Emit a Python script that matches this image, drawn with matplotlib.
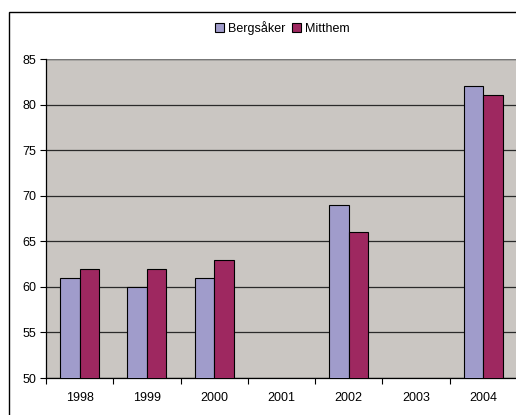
import matplotlib as mpl
import matplotlib.pyplot as plt
import numpy as np
from matplotlib.patches import Rectangle

mpl.rcParams['font.family'] = ['Liberation Sans', 'DejaVu Sans']

years = ['1998', '1999', '2000', '2001', '2002', '2003', '2004']
bergsaker = [61, 60, 61, np.nan, 69, np.nan, 82]
mitthem = [62, 62, 63, np.nan, 66, np.nan, 81]

W, H = 516, 415
fig = plt.figure(figsize=(W / 100, H / 100), dpi=100)
fig.patch.set_facecolor('white')

# outer chart frame, runs off the right and bottom edges
fig.patches.append(Rectangle((9 / W, -0.05), 1.1, 1 - 12 / H + 0.05,
                             transform=fig.transFigure, fill=False,
                             edgecolor='black', linewidth=1.0))

ax = fig.add_axes([46 / W, 37 / H, 1 - 46 / W + 0.002, (378 - 59) / H])
ax.set_facecolor('#cac6c2')

x = np.arange(len(years))
w = 0.29
ax.bar(x - w / 2, bergsaker, w, color='#a09ccb', edgecolor='black',
       linewidth=0.8, label='Bergsåker', zorder=3)
ax.bar(x + w / 2, mitthem, w, color='#9e2860', edgecolor='black',
       linewidth=0.8, label='Mitthem', zorder=3)

ax.set_ylim(50, 85)
ax.set_xlim(-0.5, len(years) - 0.5)
ax.set_yticks(range(50, 86, 5))
ax.yaxis.grid(True, color='#2a2a2a', linewidth=0.9, zorder=1)
ax.set_axisbelow(True)

ax.set_xticks(x)
ax.set_xticklabels(years, fontsize=9)
ax.set_xticks(np.arange(-0.5, len(years)), minor=True)
ax.tick_params(axis='x', which='major', length=0, pad=10)
ax.tick_params(axis='x', which='minor', length=4, width=0.8, direction='out')
ax.tick_params(axis='y', length=4, width=0.8, direction='out', labelsize=9, pad=3)

for side in ['top', 'right']:
    ax.spines[side].set_visible(False)
ax.spines['left'].set_linewidth(0.9)
ax.spines['bottom'].set_linewidth(0.9)
ax.axhline(85, color='#777777', linewidth=1.0, zorder=2)

fig.legend(loc='center', bbox_to_anchor=(282 / W, 1 - 28 / H), ncol=2,
           frameon=False, fontsize=9, handlelength=0.75, handleheight=0.75,
           handletextpad=0.3, columnspacing=0.5)

fig.savefig('out.png', dpi=100)
